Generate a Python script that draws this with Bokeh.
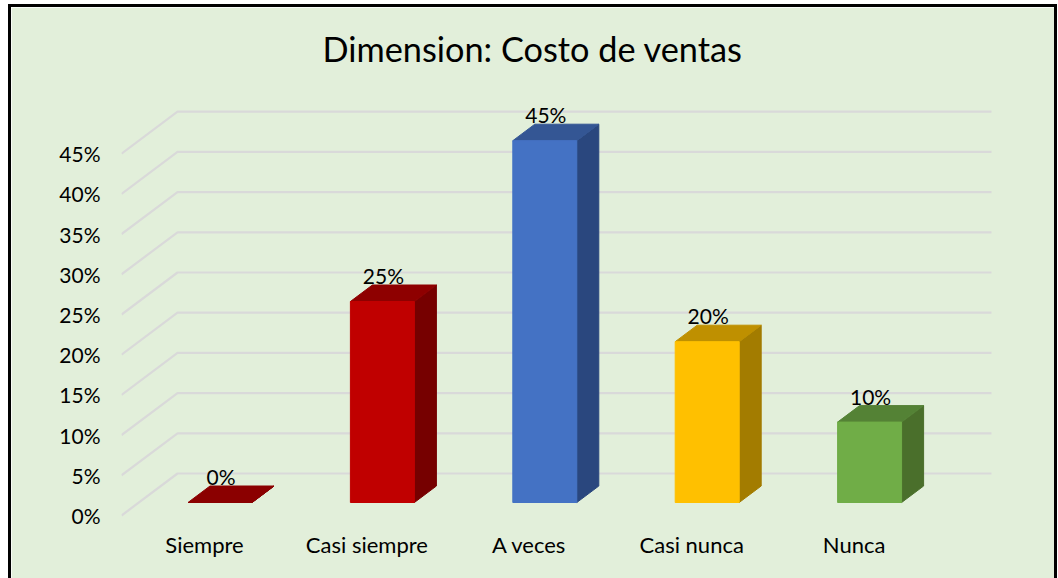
from bokeh.plotting import figure
from bokeh.models import FixedTicker, Range1d
from bokeh.core.properties import value
from bokeh.embed import file_html
from bokeh.resources import INLINE

categories = ["Siempre", "Casi siempre", "A veces", "Casi nunca", "Nunca"]
values = [0, 25, 45, 20, 10]
tick_values = [0, 5, 10, 15, 20, 25, 30, 35, 40, 45]
front_colors = ["#8B0000", "#C00000", "#4472C4", "#FFC000", "#70AD47"]
top_colors = ["#8B0000", "#8E0000", "#345694", "#BF9000", "#548235"]
side_colors = ["#760000", "#760000", "#2A477E", "#A37C00", "#4A6F2B"]

FONT = "Lato"
PX_X = 162.4   # pixels per category
PX_Y = 8.04    # pixels per percent
FIG_L, FIG_T, FIG_R, FIG_B = 11, 7, 1054, 578
FL, FR, FT, FB = 121, 1045, 72, 521   # frame edges in page pixels
X0, Y0 = 204, 515                     # page position of category 0 / 0 %

def dx(px): return px / PX_X
def dy(px): return px / PX_Y

p = figure(width=FIG_R - FIG_L, height=FIG_B - FIG_T, output_backend="svg", toolbar_location=None,
           x_range=Range1d(dx(FL - X0), dx(FR - X0)),
           y_range=Range1d(dy(Y0 - FB), dy(Y0 - FT)),
           min_border_left=FL - FIG_L, min_border_right=FIG_R - FR,
           min_border_top=FT - FIG_T, min_border_bottom=FIG_B - FB,
           background_fill_color="#E2EFDA", border_fill_color="#E2EFDA",
           outline_line_color="#E2EFDA",
           margin=(FIG_T, 0, 0, FIG_L),
           styles={"box-shadow": "0 0 0 3px #000000"})

p.title.text = "Dimension: Costo de ventas"
p.title.text_font = FONT
p.title.text_font_size = "34.3px"
p.title.text_font_style = "normal"
p.title.text_color = "#000000"
p.title.align = "left"
p.title.offset = 201
p.title.standoff = 8

p.grid.visible = False
p.xaxis.ticker = FixedTicker(ticks=list(range(len(categories))))
p.xaxis.major_label_overrides = {i: c for i, c in enumerate(categories)}
p.yaxis.ticker = FixedTicker(ticks=tick_values)
p.yaxis.major_label_overrides = {t: f"{t}%" for t in tick_values}
for ax in (p.xaxis[0], p.yaxis[0]):
    ax.axis_line_color = None
    ax.major_tick_line_color = None
    ax.minor_tick_line_color = None
    ax.major_label_text_font = FONT
    ax.major_label_text_color = "#000000"
p.xaxis.major_label_text_font_size = "22px"
p.yaxis.major_label_text_font_size = "21px"
p.xaxis.major_label_standoff = 3
p.yaxis.major_label_standoff = 15

# gridlines: front stub, then along the back wall
xs, ys = [], []
xa, xb, xc = dx(FL - X0), dx(177 - X0), dx(991 - X0)
for t in tick_values:
    xs.append([xa, xb, xc])
    ys.append([t, t + dy(42), t + dy(42)])
p.multi_line(xs, ys, line_color="#D9D9D9", line_width=2.2)

# bars
HALF = dx(32)            # half bar width
SHIFT_X = dx(15.5)       # bar centre relative to its axis label
BASE = dy(13)            # bar base sits above the axis zero
DEPTH_X, DEPTH_Y = dx(22), dy(16.5)
for i, (v, cf, ct, cs) in enumerate(zip(values, front_colors, top_colors, side_colors)):
    x1, x2 = i + SHIFT_X - HALF, i + SHIFT_X + HALF
    y1, y2 = BASE, v + BASE
    p.patch([x2, x2 + DEPTH_X, x2 + DEPTH_X, x2], [y1, y1 + DEPTH_Y, y2 + DEPTH_Y, y2],
            fill_color=cs, line_color=cs, line_width=1)
    p.patch([x1, x2, x2 + DEPTH_X, x1 + DEPTH_X], [y2, y2, y2 + DEPTH_Y, y2 + DEPTH_Y],
            fill_color=ct, line_color=ct, line_width=1)
    p.patch([x1, x2, x2, x1], [y1, y1, y2, y2], fill_color=cf, line_color=cf, line_width=1)

p.text([i + SHIFT_X for i in range(len(values))], [v + BASE for v in values],
       text=[f"{v}%" for v in values], text_font=value(FONT), text_font_size="21px",
       text_color="#000000", text_align="center", text_baseline="middle",
       x_offset=1, y_offset=-26)

open("out.html", "w").write(file_html(p, INLINE))
